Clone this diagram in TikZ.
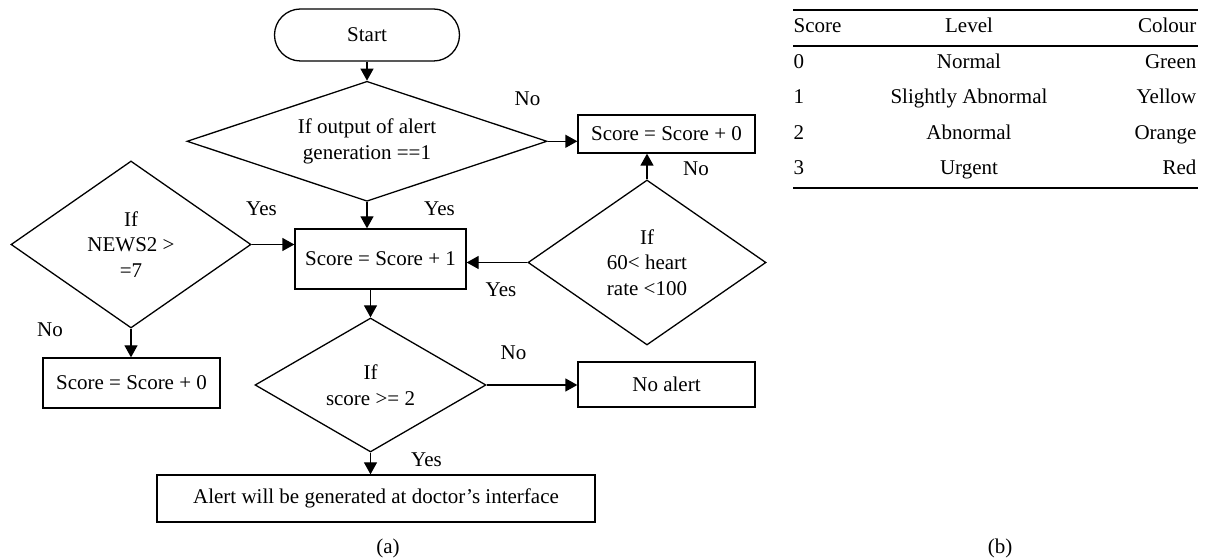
\documentclass[tikz,border=0pt]{standalone}
\usepackage{fontspec}
\setmainfont{Liberation Serif}
\usetikzlibrary{arrows.meta,shapes,positioning}
\tikzset{
  basic/.style  = {draw, line width=0.65pt, inner sep=1pt, font=\fontsize{10.5}{12.8}\selectfont},
  root/.style   = {basic, rectangle, rounded corners=13pt, minimum width=92.5pt, minimum height=26pt},
  mstep/.style  = {basic, rectangle, minimum width=88.5pt, minimum height=19pt},
  decision/.style = {basic, diamond, align=center},
  tag/.style    = {inner sep=0pt, font=\fontsize{10.5}{12.8}\selectfont},
  rule/.style   = {line width=0.65pt}
}

\begin{document}
\begin{tikzpicture}[x=1pt, y=1pt, line width=0.65pt,
    >={Triangle[length=6pt,width=6.5pt]}]
\useasboundingbox (0,0) rectangle (603.5,-280);

% main column of the flow chart
    \node[root] (start) at (183.5,-17.5) {Start};
    \node[decision, aspect=3, minimum width=180pt, minimum height=60pt,
      below=9.5pt of start] (alert_check) {If output of alert\\generation ==1};
    \node[mstep, minimum width=85.5pt, minimum height=30pt] (score_inc) at (190.25,-129.5) {Score = Score + 1};
    \node[decision, aspect=1.72, minimum width=115.5pt, minimum height=67pt] (score_check) at (185.25,-192.5) {If\\score >= 2};
    \node[mstep, minimum width=219pt, minimum height=23.5pt] (doctor_alert) at (188,-249.25) {Alert will be generated at doctor’s interface};

% left branch
    \node[decision, aspect=1.44, minimum width=120pt, minimum height=83.5pt] (news_check) at (65.5,-122.25) {If\\NEWS2 >\\=7};
    \node[mstep, minimum height=25pt] (score_keep_l) at (65.75,-191.5) {Score = Score + 0};

% right branch
    \node[mstep] (score_keep_r) at (333.25,-67) {Score = Score + 0};
    \node[decision, aspect=1.44, minimum width=119pt, minimum height=82.5pt] (hr_check) at (323.5,-131.25) {If\\60< heart\\rate <100};
    \node[mstep, minimum height=22.5pt] (no_alert) at (333.25,-192.25) {No alert};

% yes / no labels
    \begin{scope}[every node/.style={tag}]
      \node (no1)  at (263.75,-49.5) {No};
      \node (yes1) at (130.75,-104.5) {Yes};
      \node (yes2) at (219.75,-104.5) {Yes};
      \node (no2)  at (25,-165) {No};
      \node (yes3) at (250.5,-145) {Yes};
      \node (no3)  at (348,-84.5) {No};
      \node (no4)  at (256.75,-176.5) {No};
      \node (yes4) at (213.25,-230) {Yes};
      \node (cap_a) at (194,-274) {(a)};
      \node (cap_b) at (500,-274) {(b)};
    \end{scope}

% connectors
    \draw[->] (start) -- (alert_check);
    \draw[->] (alert_check.east) -- (alert_check.east -| score_keep_r.west);
    \draw[->] (alert_check.south) -- (alert_check.south |- score_inc.north);
    \draw[->] (news_check.east) -- (news_check.east -| score_inc.west);
    \draw[->] (news_check.south) -- (news_check.south |- score_keep_l.north);
    \draw[->] (hr_check.west) -- (hr_check.west -| score_inc.east);
    \draw[->] (hr_check.north) -- (hr_check.north |- score_keep_r.south);
    \draw[->] (score_check.north |- score_inc.south) -- (score_check.north);
    \draw[->] (score_check.east) -- (score_check.east -| no_alert.west);
    \draw[->] (score_check.south) -- (score_check.south |- doctor_alert.north);

% score table
    \draw[rule] (396.5,-5) -- (599,-5);
    \draw[rule] (396.5,-23) -- (599,-23);
    \draw[rule] (396.5,-94) -- (599,-94);
    \begin{scope}[every node/.style={tag}]
      \node[anchor=base west] (h_score) at (396.5,-16.5) {Score};
      \node[anchor=base] (h_level) at (484.5,-16.5) {Level};
      \node[anchor=base east] (h_colour) at (598.5,-16.5) {Colour};
      \foreach \sc/\lv/\col [count=\i] in {0/Normal/Green, 1/Slightly Abnormal/Yellow,
          2/Abnormal/Orange, 3/Urgent/Red}{
        \node[anchor=base west] (score\i) at (396.5,-16.5-17.75*\i) {\sc};
        \node[anchor=base] (level\i) at (484.5,-16.5-17.75*\i) {\lv};
        \node[anchor=base east] (colour\i) at (598.5,-16.5-17.75*\i) {\col};
      }
    \end{scope}
\end{tikzpicture}
\end{document}
